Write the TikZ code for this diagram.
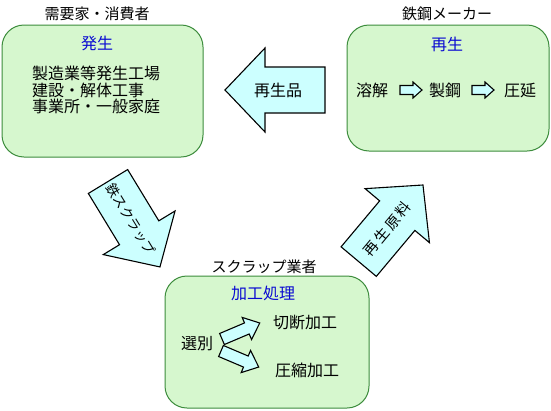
\documentclass[tikz,border=0pt]{standalone}
\usepackage{fontspec}
\setmainfont{Noto Sans CJK JP}
\definecolor{boxfill}{RGB}{214,247,206}
\definecolor{boxline}{RGB}{60,140,60}
\definecolor{arrowfill}{RGB}{204,255,255}
\definecolor{headblue}{RGB}{10,10,210}
\tikzset{
  gbox/.style={draw=boxline, fill=boxfill, line width=1pt, rounded corners=22pt, inner sep=0pt},
  arrowbody/.style={draw=black, fill=arrowfill, line width=1.1pt, line join=miter},
  lbl/.style={font=\fontsize{15}{16.5}\selectfont, inner sep=0pt},
  big/.style={lbl, font=\fontsize{16}{16.8}\selectfont},
  head/.style={big, text=headblue},
  pics/blockarrow/.style n args={4}{code={
    \draw[arrowbody] (0,#1) -- ({#4-#3},#1) -- ({#4-#3},#2) -- (#4,0) -- ({#4-#3},-#2) -- ({#4-#3},-#1) -- (0,-#1) -- cycle;
  }}
}
\begin{document}
\begin{tikzpicture}[x=1pt,y=-1pt]
\useasboundingbox (0,0) rectangle (551,410);
% boxes
\node[gbox, minimum width=201pt, minimum height=132pt] (src) at (102.5,91) {};
\node[gbox, minimum width=202pt, minimum height=126pt] (mill) at (448,88) {};
\node[gbox, minimum width=204pt, minimum height=132pt] (scrap) at (267,342) {};
% titles
\node[lbl] (srctitle) at (97,14) {需要家・消費者};
\node[lbl] (milltitle) at (447,14) {鉄鋼メーカー};
\node[lbl] (scraptitle) at (264,267) {スクラップ業者};
% headers
\node[head] (srchead) at (97,43) {発生};
\node[head] (millhead) at (447,44) {再生};
\node[head] (scraphead) at (263,293) {加工処理};
% left box contents
\node[big, anchor=west, align=left] (srclines) at (32,90) {製造業等発生工場\\建設・解体工事\\事業所・一般家庭};
% right box contents
\node[big] (melt) at (372,90) {溶解};
\node[big] (steel) at (445,90) {製鋼};
\node[big] (roll) at (520,90) {圧延};
\pic at (400,90) {blockarrow={4.5}{8}{9}{22}};
\pic at (472,90) {blockarrow={4.5}{8}{9}{22}};
% bottom box contents
\node[big] (sort) at (197,344) {選別};
\node[big] (cut) at (305,323) {切断加工};
\node[big] (press) at (307,370) {圧縮加工};
\pic[rotate=23] at (222,339) {blockarrow={6}{12}{14}{41}};
\pic[rotate=-23] at (221,351) {blockarrow={6}{12}{14}{41}};
% big arrows
\pic[rotate=180] at (325,90) {blockarrow={23}{42}{40}{100}};
\node[big] (product) at (278,90) {再生品};
\pic[rotate=-58.7] at (108,181.5) {blockarrow={23}{42}{40}{100}};
\node[lbl, font=\fontsize{13.5}{13.5}\selectfont, rotate=-58.7] (scraplabel) at (131,219) {鉄スクラップ};
\pic[rotate=50] at (358.7,261.6) {blockarrow={23}{42}{40}{100}};
\node[lbl, font=\fontsize{14.5}{14.5}\selectfont, rotate=50] (rawlabel) at (387,229) {再\hspace{2.5pt}生\hspace{2.5pt}原\hspace{2.5pt}料};
\end{tikzpicture}
\end{document}
